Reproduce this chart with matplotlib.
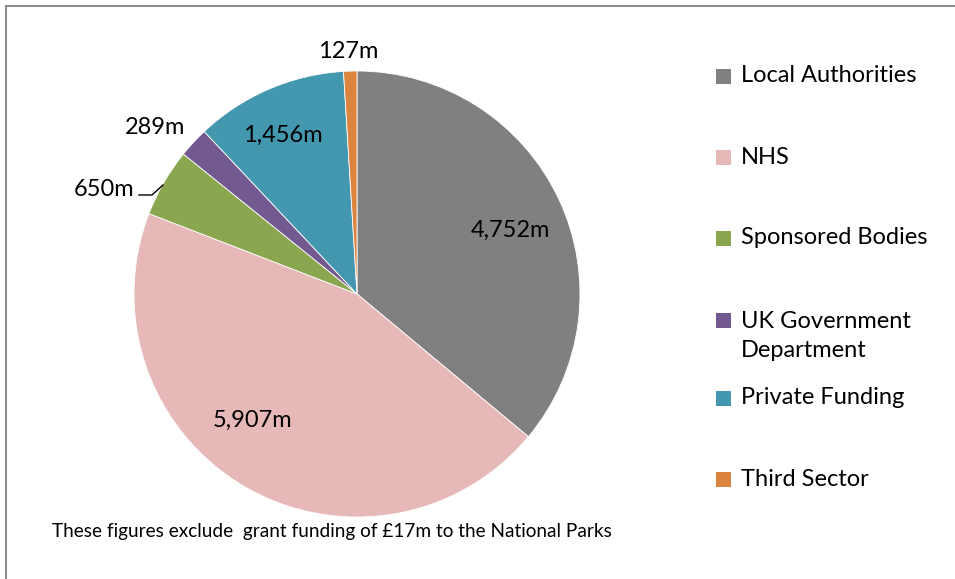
import matplotlib
matplotlib.use("Agg")
import matplotlib.pyplot as plt
from matplotlib.patches import Rectangle

# data
labels = ["Local Authorities", "NHS", "Sponsored Bodies",
          "UK Government\nDepartment", "Private Funding", "Third Sector"]
values = [4752, 5907, 650, 289, 1456, 127]
value_text = ["4,752m", "5,907m", "650m", "289m", "1,456m", "127m"]
colors = ["#808080", "#E6B9B8", "#8AA64F", "#725990", "#4398B0", "#DB843D"]
note = "These figures exclude  grant funding of £17m to the National Parks"

plt.rcParams['font.family'] = ['Lato', 'DejaVu Sans']

W, H = 955, 579
fig = plt.figure(figsize=(W / 100, H / 100), dpi=100)
ax = fig.add_axes([0, 0, 1, 1])

# pie in pixel space (y axis flipped, so counterclock=True draws clockwise on screen)
wedges, _ = ax.pie(values, colors=colors, startangle=-90, counterclock=True,
                   center=(357, 294), radius=223, frame=True,
                   wedgeprops=dict(linewidth=0.6, edgecolor="white"))
ax.set_xlim(0, W)
ax.set_ylim(H, 0)
ax.set_aspect("equal")
ax.axis("off")

# value labels
label_pos = [(510, 230), (252, 420), (104, 189), (155, 127), (283, 135), (348, 51)]
for (x, y), t in zip(label_pos, value_text):
    ax.text(x, y, t, fontsize=17, ha="center", va="center", color="black")

# leader line for 650m
ax.plot([139, 152, 163], [195, 195, 185], color="black", lw=1)

# legend
leg_y = [76, 157, 238, 336, 398, 479]
for y, lab, c in zip(leg_y, labels, colors):
    first_y = y - 16 if "\n" in lab else y
    ax.add_patch(Rectangle((716, first_y - 7), 15, 15, facecolor=c, edgecolor="none"))
    ax.text(741, y, lab, fontsize=17, ha="left", va="center", linespacing=1.45)

ax.text(52, 531, note, fontsize=13.7, ha="left", va="center")

# outer border
fig.patches.append(Rectangle((6 / W, -0.01), 1.0, 1 - 6 / H + 0.01,
                             transform=fig.transFigure, fill=False,
                             edgecolor="#8C8C8C", lw=1.5))

fig.savefig("out.png", dpi=100)
